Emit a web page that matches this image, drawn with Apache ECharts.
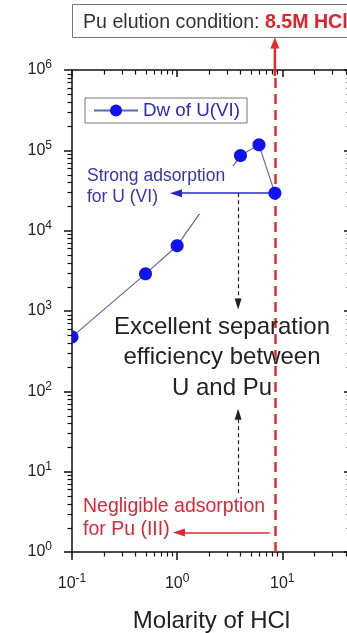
<!DOCTYPE html>
<html>
<head>
<meta charset="utf-8">
<script src="https://cdn.jsdelivr.net/npm/echarts@6/dist/echarts.min.js"></script>
<style>
  html, body { margin: 0; padding: 0; background: #fff; }
  #chart { width: 347px; height: 633px; }
</style>
</head>
<body>
<div id="chart"></div>
<script>
// HCl molarity (M) and the distribution coefficient Dw of U(VI)
const hclMolarity = [0.1, 0.5, 1.0, 4.0, 6.0, 8.5];
const dwUranium = [476, 2900, 6500, 86000, 117000, 29300];
// Pu elution condition (M HCl)
const puElutionHCl = 8.5;
// Log-axis decades and the minor multiples inside each decade
const xDecades = [0.1, 1, 10];
const yDecades = [1, 10, 100, 1000, 10000, 100000];
const minorMultiples = [2, 3, 4, 5, 6, 7, 8, 9];

const X_MIN = 0.1, X_MAX = 45, Y_MIN = 1, Y_MAX = 1e6;
const FONT = '"Liberation Sans", Arial, sans-serif';
const AXIS_COLOR = '#111';
const MARKER_R = 6.5;

// minor tick values: [x, y, kind] with kind 0 = x-axis, 1 = y-axis
const minorTicks = [];
xDecades.forEach(d => minorMultiples.forEach(m => {
  const v = d * m;
  if (v < X_MAX) minorTicks.push([v, Y_MIN, 0]);
}));
yDecades.forEach(d => minorMultiples.forEach(m => minorTicks.push([X_MIN, d * m, 1])));

function powerLabel(v) {
  const e = Math.log10(v);
  const r = Math.round(e);
  if (Math.abs(e - r) > 1e-6) return '';
  return '{b|10}{s|' + r + '}';
}
const powerRich = {
  b: { fontSize: 16, fontFamily: FONT, color: '#222' },
  s: { fontSize: 12, fontFamily: FONT, color: '#222', padding: [0, 0, 10, 0] }
};

function baseAxis(extra) {
  return Object.assign({
    type: 'log', logBase: 10,
    axisLine: { show: true, lineStyle: { color: AXIS_COLOR, width: 1.5 } },
    splitLine: { show: false },
    minorTick: { show: false },
    minorSplitLine: { show: false }
  }, extra);
}

// circle outline clipped to the plotting rectangle
function clippedCircle(cx, cy, r, cs) {
  const pts = [];
  for (let i = 0; i < 48; i++) {
    const a = (i / 48) * Math.PI * 2;
    let x = cx + r * Math.cos(a), y = cy + r * Math.sin(a);
    x = Math.min(Math.max(x, cs.x), cs.x + cs.width);
    y = Math.min(Math.max(y, cs.y), cs.y + cs.height);
    pts.push([x, y]);
  }
  return pts;
}

const chart = echarts.init(document.getElementById('chart'), null, { renderer: 'canvas' });

const markLineStyle = (color, width, type) => ({ color, width, type, opacity: 1 });

chart.setOption({
  animation: false,
  backgroundColor: '#fff',
  textStyle: { fontFamily: FONT },
  grid: { left: 72, right: -4, top: 70, bottom: 81, containLabel: false, outerBoundsMode: 'none' },
  legend: {
    data: ['Dw of U(VI)'],
    left: 85, top: 98,
    itemWidth: 44, itemHeight: 15, itemGap: 4,
    padding: [3, 7, 3, 8],
    borderColor: '#777', borderWidth: 1, borderRadius: 0,
    textStyle: { color: '#2a2ac4', fontSize: 18.8, fontFamily: FONT },
    selectedMode: false
  },
  xAxis: [
    baseAxis({
      position: 'bottom', min: X_MIN, max: X_MAX,
      axisTick: { show: true, inside: false, length: 8, lineStyle: { color: AXIS_COLOR, width: 1.5 } },
      axisLabel: { formatter: powerLabel, rich: powerRich, margin: 21, showMaxLabel: false },
      name: 'Molarity of HCl', nameLocation: 'middle', nameGap: 57,
      nameTextStyle: { fontSize: 24, color: '#222', fontFamily: FONT }
    }),
    baseAxis({
      position: 'top', min: X_MIN, max: X_MAX,
      axisTick: { show: true, inside: true, length: 7, lineStyle: { color: AXIS_COLOR, width: 1.5 } },
      axisLabel: { show: false }
    })
  ],
  yAxis: [
    baseAxis({
      position: 'left', min: Y_MIN, max: Y_MAX,
      axisTick: { show: true, inside: false, length: 8, lineStyle: { color: AXIS_COLOR, width: 1.5 } },
      axisLabel: { formatter: powerLabel, rich: powerRich, margin: 20 }
    }),
    baseAxis({
      position: 'right', min: Y_MIN, max: Y_MAX,
      axisTick: { show: true, inside: true, length: 7, lineStyle: { color: AXIS_COLOR, width: 1.5 } },
      axisLabel: { show: false }
    })
  ],
  series: [
    {
      name: 'Dw of U(VI)',
      type: 'line',
      data: hclMolarity.map((x, i) => [x, dwUranium[i]]),
      showSymbol: false,
      symbol: 'circle',
      itemStyle: { color: '#1212ee' },
      lineStyle: { color: '#6068a8', width: 1.2 },
      clip: true,
      silent: true,
      z: 2,
      markLine: {
        silent: true,
        animation: false,
        symbol: ['none', 'none'],
        label: { show: false },
        emphasis: { disabled: true },
        z: 5,
        data: [
          // Pu elution condition
          { xAxis: puElutionHCl, lineStyle: markLineStyle('#e82a2a', 2.5, [10, 6]) },
          // strong adsorption for U(VI) at the elution condition
          [
            { coord: [puElutionHCl, dwUranium[5]], lineStyle: markLineStyle('#2828c0', 1.5, 'solid') },
            { coord: [0.975, dwUranium[5]], symbol: 'triangle', symbolSize: [8, 12], lineStyle: markLineStyle('#2828c0', 1.5, 'solid') }
          ],
          // negligible adsorption for Pu(III)
          [
            { coord: [7.6, 1.75], lineStyle: markLineStyle('#e02a36', 1.5, 'solid') },
            { coord: [1.04, 1.75], symbol: 'triangle', symbolSize: [8, 12], lineStyle: markLineStyle('#e02a36', 1.5, 'solid') }
          ],
          // separation arrows
          [
            { coord: [3.8, dwUranium[5]], lineStyle: markLineStyle('#222', 1.2, [4, 3]) },
            { coord: [3.8, 1222], symbol: 'triangle', symbolSize: [7, 11], lineStyle: markLineStyle('#222', 1.2, [4, 3]) }
          ],
          [
            { coord: [3.8, 5.4], lineStyle: markLineStyle('#222', 1.2, [4, 3]) },
            { coord: [3.8, 52], symbol: 'triangle', symbolSize: [7, 11], lineStyle: markLineStyle('#222', 1.2, [4, 3]) }
          ]
        ]
      }
    },
    {
      name: 'markers',
      type: 'custom',
      coordinateSystem: 'cartesian2d',
      clip: false,
      silent: true,
      z: 6,
      data: hclMolarity.map((x, i) => [x, dwUranium[i]]),
      renderItem: (params, api) => {
        const p = api.coord([api.value(0), api.value(1)]);
        return { type: 'polygon', shape: { points: clippedCircle(p[0], p[1], MARKER_R, params.coordSys) },
                 style: { fill: '#1212ee' } };
      }
    },
    {
      name: 'minor ticks',
      type: 'custom',
      coordinateSystem: 'cartesian2d',
      clip: false,
      silent: true,
      z: 3,
      data: minorTicks,
      renderItem: (params, api) => {
        const cs = params.coordSys;
        const st = { stroke: AXIS_COLOR, lineWidth: 1.2 };
        if (api.value(2) === 0) {
          const px = Math.round(api.coord([api.value(0), Y_MIN])[0]) + 0.5;
          const yb = cs.y + cs.height, yt = cs.y;
          return { type: 'group', children: [
            { type: 'line', shape: { x1: px, y1: yb, x2: px, y2: yb + 4.5 }, style: st },
            { type: 'line', shape: { x1: px, y1: yt, x2: px, y2: yt + 4.5 }, style: st }
          ] };
        }
        const py = Math.round(api.coord([X_MIN, api.value(1)])[1]) + 0.5;
        const xl = cs.x, xr = cs.x + cs.width;
        return { type: 'group', children: [
          { type: 'line', shape: { x1: xl - 4.5, y1: py, x2: xl, y2: py }, style: st },
          { type: 'line', shape: { x1: xr - 4.5, y1: py, x2: xr, y2: py }, style: st }
        ] };
      }
    }
  ]
});

// annotations placed against the axes
const puX = chart.convertToPixel({ xAxisIndex: 0 }, puElutionHCl);
const plotTop = chart.convertToPixel({ yAxisIndex: 0 }, Y_MAX);
const boxTop = 4.5, boxBottom = 37.5;

chart.setOption({
  graphic: [
    { type: 'rect', z: 10, shape: { x: 72.5, y: boxTop, width: 300, height: boxBottom - boxTop },
      style: { fill: '#fff', stroke: '#777', lineWidth: 1 } },
    { type: 'text', z: 11, x: 83, y: 22.4,
      style: {
        text: 'Pu elution condition: {r|8.5M HCl}',
        fill: '#333', fontSize: 19.6, fontFamily: FONT, verticalAlign: 'middle',
        rich: { r: { fill: '#e4222c', fontSize: 19.6, fontWeight: 'bold', fontFamily: FONT } }
      } },
    { type: 'line', z: 11, shape: { x1: puX, y1: plotTop + 6, x2: puX, y2: boxBottom + 8 },
      style: { stroke: '#e82a2a', lineWidth: 2.5 } },
    { type: 'polygon', z: 11, shape: { points: [[puX, boxBottom], [puX - 4.5, boxBottom + 11], [puX + 4.5, boxBottom + 11]] },
      style: { fill: '#e82a2a' } },
    { type: 'text', z: 4, x: 85, y: 166,
      style: {
        text: 'Strong adsorption\nfor U (VI)',
        fill: '#3434b4', fontSize: 17.5, lineHeight: 21, fontFamily: FONT,
        backgroundColor: '#fff', padding: [0, 12, 6, 2]
      } },
    { type: 'text', z: 12, x: 222, y: 312,
      style: {
        text: 'Excellent separation\nefficiency between\nU and Pu',
        fill: '#222', fontSize: 24, lineHeight: 30.5, fontFamily: FONT, align: 'center'
      } },
    { type: 'text', z: 12, x: 83, y: 495,
      style: {
        text: 'Negligible adsorption\nfor Pu (III)',
        fill: '#d8283a', fontSize: 19.5, lineHeight: 23, fontFamily: FONT
      } }
  ]
});
</script>
</body>
</html>
